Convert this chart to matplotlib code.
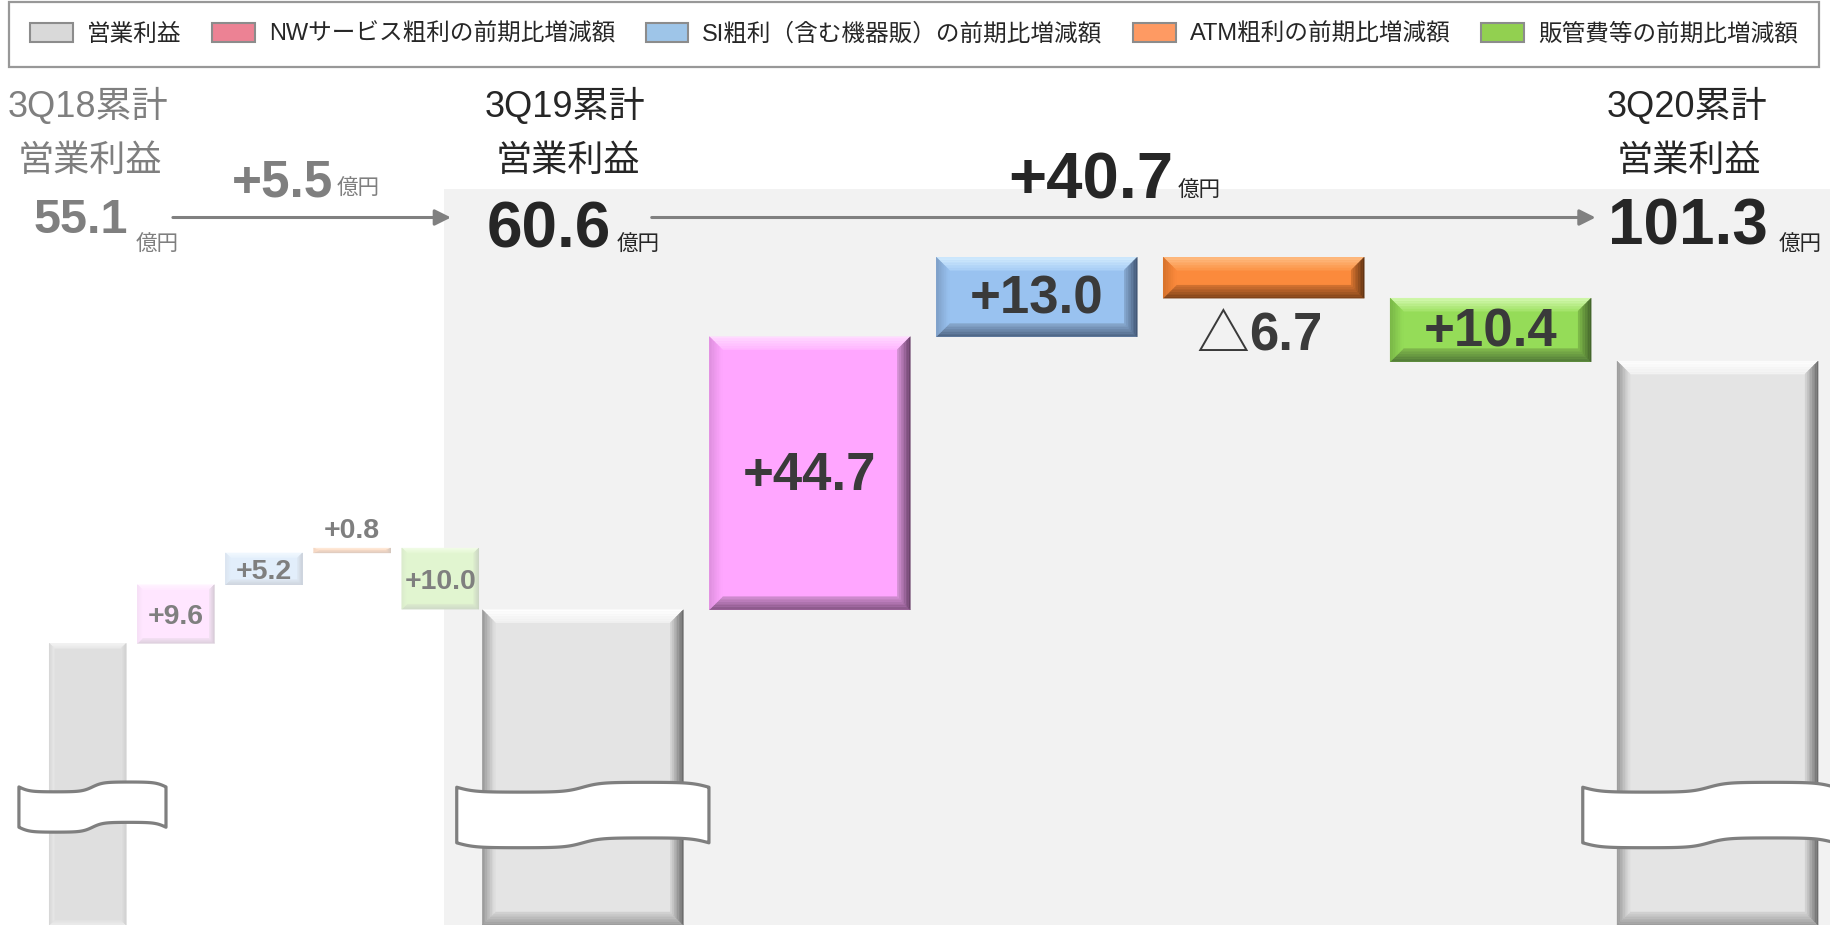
import matplotlib
matplotlib.use('Agg')
import matplotlib.pyplot as plt
from matplotlib.patches import Polygon, Rectangle, Patch, PathPatch
from matplotlib.path import Path
from matplotlib.colors import to_rgb
import numpy as np

plt.rcParams['font.family'] = ['Liberation Sans', 'Noto Sans CJK JP', 'DejaVu Sans']

# ---- data (億円) ----
periods = ['3Q18累計', '3Q19累計', '3Q20累計']
op_income = [55.1, 60.6, 101.3]
nw_diff = [9.6, 44.7]
si_diff = [5.2, 13.0]
atm_diff = [0.8, -6.7]
sga_diff = [10.0, 10.4]      # 販管費等の増加額 (利益にはマイナス)
yoy_change = [5.5, 40.7]

legend_labels = ['営業利益', 'NWサービス粗利の前期比増減額', 'SI粗利（含む機器販）の前期比増減額',
                 'ATM粗利の前期比増減額', '販管費等の前期比増減額']
legend_colors = ['#d9d9d9', '#ec8294', '#9ec5e8', '#fe9a63', '#92d050']

# bevel styles: face colour, and (outer, inner) colour for every side
STYLES = {
    'gray': dict(face='#e4e4e4', top=('#ffffff', '#f1f1f1'), left=('#959595', '#e2e2e2'),
                 right=('#666666', '#d8d8d8'), bottom=('#9a9a9a', '#d4d4d4')),
    'gray_faded': dict(face='#dfdfdf', top=('#f6f6f6', '#e8e8e8'), left=('#d6d6d6', '#e8e8e8'),
                       right=('#cfcfcf', '#e2e2e2'), bottom=('#eeeeee', '#e2e2e2')),
    'pink': dict(face='#ffa6ff', top=('#ffdcff', '#ffb6ff'), left=('#dc8edc', '#ffa6ff'),
                 right=('#643c64', '#d894d8'), bottom=('#80507f', '#d28ed2')),
    'blue': dict(face='#99c2f0', top=('#d6eeff', '#a8cef6'), left=('#7d9dc4', '#99c2f0'),
                 right=('#3e5270', '#88aad2'), bottom=('#4b6280', '#88a8ce')),
    'orange': dict(face='#fb8a3c', top=('#ffc088', '#fc9447'), left=('#d4702a', '#fb8a3c'),
                   right=('#5a3012', '#d8742f'), bottom=('#7a4018', '#d47230')),
    'green': dict(face='#95dc58', top=('#d8fbb6', '#a2e367'), left=('#78b446', '#95dc58'),
                  right=('#40602a', '#80bc4a'), bottom=('#4e7536', '#80b84c')),
}

fig = plt.figure(figsize=(18.31, 9.25), dpi=100)
ax = fig.add_axes([0, 0, 1, 1])
XMAX, YMIN, YMAX = 8.08, 9.0, 160.4
ax.set_xlim(0, XMAX)
ax.set_ylim(YMIN, YMAX)
ax.axis('off')
PX_X = 1831 / XMAX
PX_Y = 925 / (YMAX - YMIN)


def fade(c, a):
    r = np.array(to_rgb(c))
    return tuple(1 - a * (1 - r))


def mix(c1, c2, f):
    return tuple((1 - f) * np.array(c1) + f * np.array(c2))


def bevel_bar(xc, y0, y1, width, style, bevel_px, alpha=1.0, z=3, n=8):
    lo, hi = min(y0, y1), max(y0, y1)
    L, R = xc - width / 2, xc + width / 2
    bx = min(bevel_px / PX_X, width / 2)
    by = min(bevel_px / PX_Y, (hi - lo) / 2)
    st = STYLES[style]
    ax.add_patch(Rectangle((L, lo), width, hi - lo, facecolor=fade(st['face'], alpha),
                           lw=0, zorder=z))
    for side in ['top', 'bottom', 'left', 'right']:
        c_out, c_in = fade(st[side][0], alpha), fade(st[side][1], alpha)
        for k in range(n):
            f0, f1 = k / n, (k + 1) / n
            col = mix(c_out, c_in, (k + 0.5) / n)
            if side == 'top':
                pts = [(L + f0 * bx, hi - f0 * by), (R - f0 * bx, hi - f0 * by),
                       (R - f1 * bx, hi - f1 * by), (L + f1 * bx, hi - f1 * by)]
            elif side == 'bottom':
                pts = [(L + f0 * bx, lo + f0 * by), (R - f0 * bx, lo + f0 * by),
                       (R - f1 * bx, lo + f1 * by), (L + f1 * bx, lo + f1 * by)]
            elif side == 'left':
                pts = [(L + f0 * bx, lo + f0 * by), (L + f0 * bx, hi - f0 * by),
                       (L + f1 * bx, hi - f1 * by), (L + f1 * bx, lo + f1 * by)]
            else:
                pts = [(R - f0 * bx, lo + f0 * by), (R - f0 * bx, hi - f0 * by),
                       (R - f1 * bx, hi - f1 * by), (R - f1 * bx, lo + f1 * by)]
            ax.add_patch(Polygon(pts, closed=True, facecolor=col, edgecolor=col,
                                 lw=0.3, zorder=z))


def draw_break(xc, width, yc, height, amp):
    t = np.linspace(0, 1, 200)
    k = 2.2
    wave = -amp * np.tanh(k * np.sin(2 * np.pi * t)) / np.tanh(k)
    xs = xc - width / 2 + width * t
    top = yc + height / 2 + wave
    bot = yc - height / 2 + wave
    verts = list(zip(xs, top)) + list(zip(xs[::-1], bot[::-1])) + [(xs[0], top[0])]
    codes = [Path.MOVETO] + [Path.LINETO] * (len(verts) - 2) + [Path.CLOSEPOLY]
    ax.add_patch(PathPatch(Path(verts, codes), facecolor='white', edgecolor='#7f7f7f',
                           lw=2.3, joinstyle='round', zorder=6))


# shaded area for the current period
ax.add_patch(Rectangle((1.959, YMIN), XMAX - 1.959, 129.5 - YMIN, facecolor='#f2f2f2',
                       lw=0, zorder=0))

# ---- waterfall sections ----
sections = [
    dict(i=0, x0=0.387, step=0.389, w=0.34, bev=5, alpha=0.28, fs=20.5, lc='#7f7f7f'),
    dict(i=1, x0=2.572, step=1.0015, w=0.887, bev=13, alpha=1.0, fs=38, lc='#3a3a3a'),
]
colors_order = ['pink', 'blue', 'orange', 'green']

for s in sections:
    i = s['i']
    xs = s['x0'] + s['step'] * np.arange(6)
    start = op_income[i]
    effects = [nw_diff[i], si_diff[i], atm_diff[i], -sga_diff[i]]
    labels = [f'+{nw_diff[i]:.1f}', f'+{si_diff[i]:.1f}',
              f'+{atm_diff[i]:.1f}' if atm_diff[i] >= 0 else f'{abs(atm_diff[i]):.1f}',
              f'+{sga_diff[i]:.1f}']
    gstyle = 'gray' if i else 'gray_faded'
    bevel_bar(xs[0], YMIN, start, s['w'], gstyle, s['bev'])
    cum = start
    for j, (eff, lab, col) in enumerate(zip(effects, labels, colors_order)):
        y0, y1 = cum, cum + eff
        bevel_bar(xs[j + 1], y0, y1, s['w'], col, s['bev'], alpha=s['alpha'])
        mid = (y0 + y1) / 2
        if abs(eff) < 2:
            ax.text(xs[j + 1], max(y0, y1) + 0.6, lab, ha='center', va='bottom',
                    fontsize=s['fs'], fontweight='bold', color=s['lc'], zorder=7)
        elif col == 'orange' and eff < 0:
            yl = min(y0, y1) - 6.2
            xl = xs[j + 1] - 0.065
            ax.text(xl, yl, lab, ha='left', va='center', fontsize=s['fs'],
                    fontweight='bold', color=s['lc'], zorder=7)
            ax.text(xl, yl, '△', ha='right', va='center', fontsize=s['fs'],
                    family=['Noto Sans CJK JP'], color=s['lc'], zorder=7)
        else:
            ax.text(xs[j + 1], mid - 0.5, lab, ha='center', va='center', fontsize=s['fs'],
                    fontweight='bold', color=s['lc'], zorder=7)
        cum = y1
    if i == 1:
        bevel_bar(xs[5], YMIN, op_income[2], s['w'], 'gray', s['bev'])

# axis breaks
draw_break(0.408, 0.649, 28.3, 6.6, 0.8)
draw_break(2.572, 1.113, 27.0, 9.1, 0.8)
draw_break(7.541, 1.113, 27.0, 9.1, 0.8)

# ---- headers ----
head_x = [0.387, 2.495, 7.443]
head_c = ['#7f7f7f', '#262626', '#262626']
for hx, per, hc in zip(head_x, periods, head_c):
    ax.text(hx, 143.0, per, ha='center', va='center', fontsize=26, color=hc)
    ax.text(hx + 0.01, 134.0, '営業利益', ha='center', va='center', fontsize=26, color=hc)

num_right = [0.567, 2.696, 7.799]
num_fs = [35, 46, 46]
unit_left = [0.598, 2.722, 7.851]
num_base = [122.2, 119.9, 120.3]
for k in range(3):
    ax.text(num_right[k], num_base[k], f'{op_income[k]:.1f}', ha='right', va='baseline',
            fontsize=num_fs[k], fontweight='bold', color=head_c[k])
    ax.text(unit_left[k], 119.4, '億円', ha='left', va='baseline', fontsize=15.5,
            color=head_c[k])

chg_right = [1.469, 5.180]
chg_fs = [37, 47]
chg_base = [128.3, 127.9]
for k in range(2):
    ax.text(chg_right[k], chg_base[k], f'+{yoy_change[k]:.1f}', ha='right', va='baseline',
            fontsize=chg_fs[k], fontweight='bold', color=head_c[k])
    ax.text(chg_right[k] + 0.016, chg_base[k] + 0.2, '億円', ha='left', va='baseline',
            fontsize=15.5, color=head_c[k])

for xa, xb in [(0.763, 1.990), (2.876, 7.041)]:
    ax.annotate('', xy=(xb, 124.8), xytext=(xa, 124.8),
                arrowprops=dict(arrowstyle='-|>', color='#808080', lw=2.2,
                                mutation_scale=24, shrinkA=0, shrinkB=0), zorder=5)

# ---- legend ----
handles = [Patch(facecolor=c, edgecolor='#8c8c8c', lw=1.5) for c in legend_colors]
leg = fig.legend(handles, legend_labels, loc='lower left',
                 bbox_to_anchor=(9 / 1831, 1 - 67 / 925, 1810 / 1831, 61 / 925),
                 mode='expand', ncol=5, fontsize=17, frameon=True, fancybox=False,
                 edgecolor='#7f7f7f', handlelength=1.8, handleheight=0.9,
                 handletextpad=0.6, borderaxespad=0, columnspacing=0.5, borderpad=0.9)
leg.get_frame().set_linewidth(1.6)
for t in leg.get_texts():
    t.set_color('#262626')

fig.savefig('out.png', dpi=100, facecolor='white')
